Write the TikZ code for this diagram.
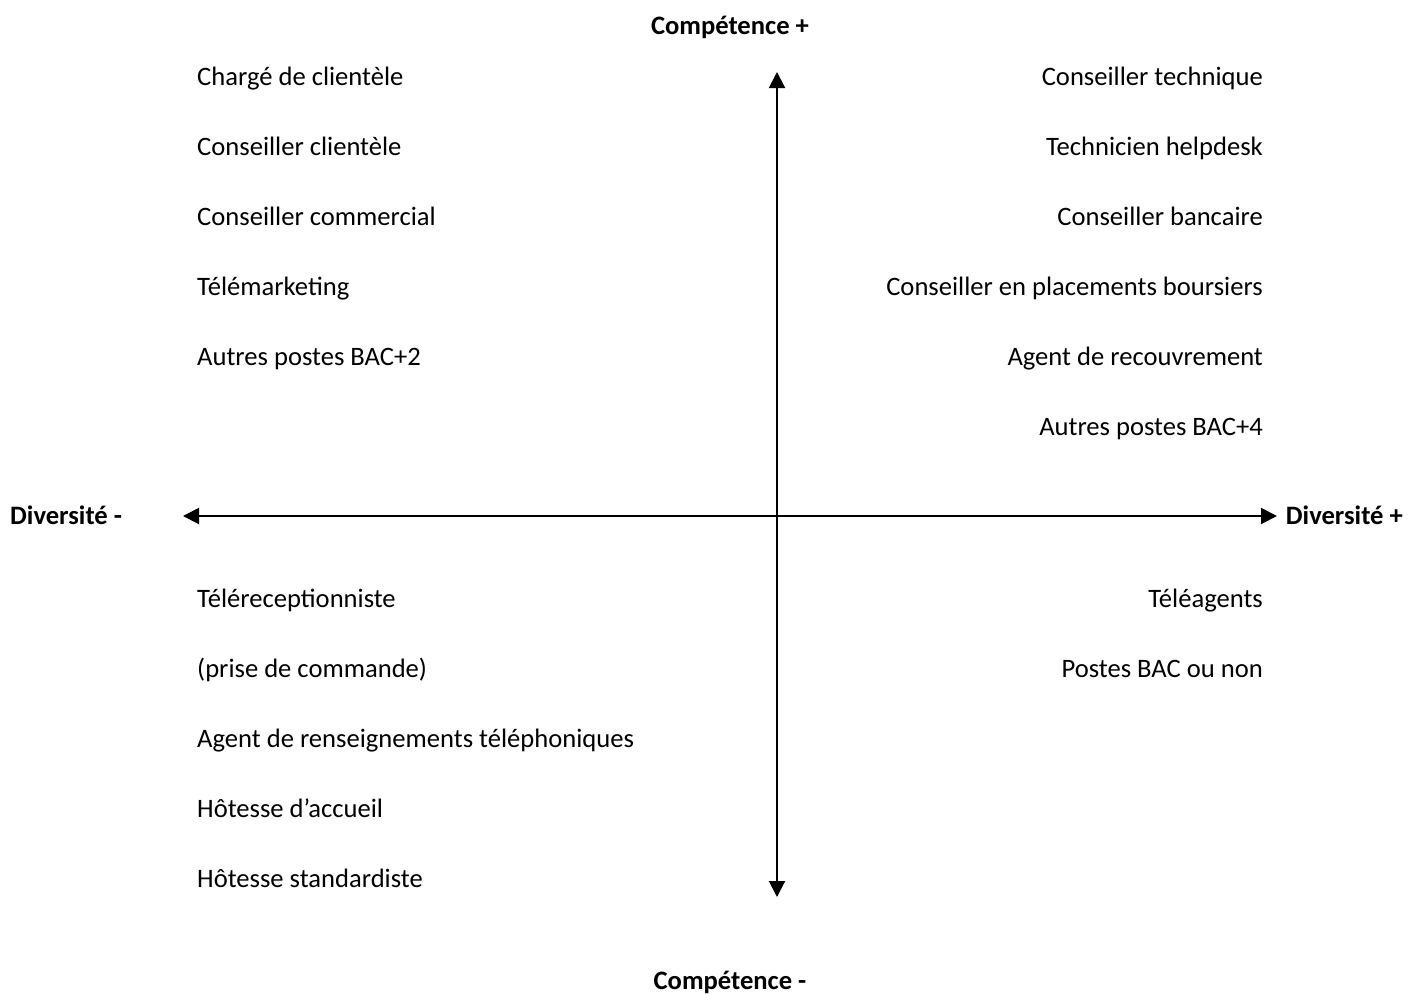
\documentclass[tikz,border=0pt]{standalone}
\usepackage{fontspec}
\setmainfont{Carlito}
\usetikzlibrary{arrows.meta}
\begin{document}
\begin{tikzpicture}[x=1pt,y=-1pt,
  lbl/.style={inner sep=0pt,font=\fontsize{26.6}{32}\selectfont,text height=18pt,text depth=5pt},
  axlbl/.style={lbl,font=\fontsize{26.6}{32}\selectfont\bfseries},
  axis/.style={line width=2pt,-{Triangle[length=16pt,width=16pt]}}]
\useasboundingbox (0,0) rectangle (1413,994);
\coordinate (c) at (777,516);
\coordinate (top) at (777,72);
\coordinate (bot) at (777,897);
\coordinate (left) at (183,516);
\coordinate (right) at (1277,516);
\draw[axis] (c) -- (top);
\draw[axis] (c) -- (bot);
\draw[axis] (c) -- (left);
\draw[axis] (c) -- (right);
\node[axlbl] (ctop) at (730,28) {Compétence +};
\node[axlbl] (cbot) at (730,983) {Compétence -};
\node[axlbl,anchor=west] (dmin) at (10,518) {Diversité -};
\node[axlbl,anchor=east] (dplus) at (1403,518) {Diversité +};
\foreach \t [count=\i] in {Chargé de clientèle,Conseiller clientèle,Conseiller commercial,Télémarketing,Autres postes BAC+2}
  \node[lbl,anchor=west] (tl\i) at (197,9+70*\i) {\t};
\foreach \t [count=\i] in {Conseiller technique,Technicien helpdesk,Conseiller bancaire,Conseiller en placements boursiers,Agent de recouvrement,Autres postes BAC+4}
  \node[lbl,anchor=east] (tr\i) at (1263,9+70*\i) {\t};
\foreach \t [count=\i] in {Téléreceptionniste,(prise de commande),Agent de renseignements téléphoniques,Hôtesse d’accueil,Hôtesse standardiste}
  \node[lbl,anchor=west] (bl\i) at (197,531+70*\i) {\t};
\foreach \t [count=\i] in {Téléagents,Postes BAC ou non}
  \node[lbl,anchor=east] (br\i) at (1263,531+70*\i) {\t};
\end{tikzpicture}
\end{document}
